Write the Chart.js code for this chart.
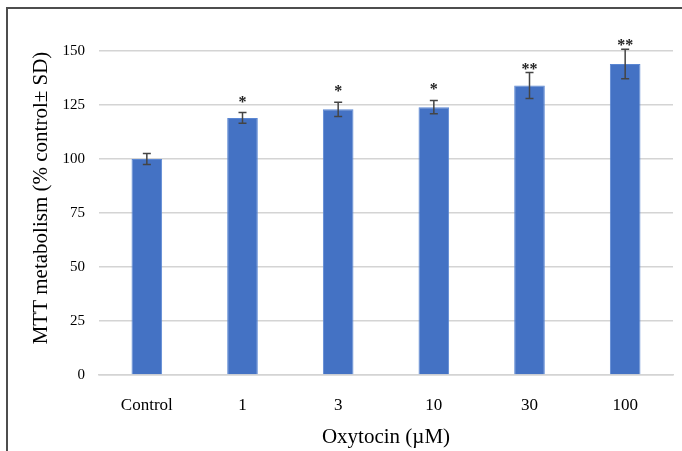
<!DOCTYPE html>
<html>
<head>
<meta charset="utf-8">
<script src="https://cdn.jsdelivr.net/npm/chart.js@4"></script>
<style>
  html, body { margin: 0; padding: 0; background: #fff; }
  #wrap { width: 682px; height: 451px; }
</style>
</head>
<body>
<div id="wrap"><canvas id="mttChart" width="682" height="451"></canvas></div>
<script>
// data
const doses = ['Control', '1', '3', '10', '30', '100'];
const meanValues = [100, 119, 123, 124, 134, 144];
const sdValues = [2.5, 2.5, 3.3, 3.1, 6, 6.8];
const sigMarks = ['', '*', '*', '*', '**', '**'];
const yTicks = [0, 25, 50, 75, 100, 125, 150];

const serif = '"Liberation Serif", "Times New Roman", serif';

// frame (left + top lines), error bars, stars and axis titles
const extras = {
    id: 'extras',
    beforeDraw(chart) {
        const c = chart.ctx;
        c.save();
        c.strokeStyle = '#4d4d4d';
        c.lineWidth = 2;
        c.beginPath();
        c.moveTo(7, 460);
        c.lineTo(7, 8);
        c.lineTo(690, 8);
        c.stroke();
        c.restore();
    },
    afterDatasetsDraw(chart) {
        const c = chart.ctx;
        const meta = chart.getDatasetMeta(0);
        const y = chart.scales.y;
        c.save();
        c.strokeStyle = '#444';
        c.lineWidth = 1.5;
        meta.data.forEach((bar, i) => {
            const top = y.getPixelForValue(meanValues[i] + sdValues[i]);
            const bot = y.getPixelForValue(meanValues[i] - sdValues[i]);
            c.beginPath();
            c.moveTo(bar.x, top); c.lineTo(bar.x, bot);
            c.moveTo(bar.x - 4, top); c.lineTo(bar.x + 4, top);
            c.moveTo(bar.x - 4, bot); c.lineTo(bar.x + 4, bot);
            c.stroke();
            if (sigMarks[i]) {
                // single stars sit a bit higher in the original
                const lift = sigMarks[i].length === 1 ? 9 : 2;
                c.fillStyle = '#222';
                c.font = 'bold 16px ' + serif;
                c.textAlign = 'center';
                c.textBaseline = 'alphabetic';
                c.fillText(sigMarks[i], bar.x, top + 3 - lift);
            }
        });
        c.restore();
    },
    afterDraw(chart) {
        const c = chart.ctx;
        const a = chart.chartArea;
        c.save();
        c.fillStyle = '#000';
        c.font = '21px ' + serif;
        c.textAlign = 'center';
        c.textBaseline = 'middle';
        c.fillText('Oxytocin (\u00b5M)', (a.left + a.right) / 2, 437);
        c.translate(41, 198);
        c.rotate(-Math.PI / 2);
        c.fillText('MTT metabolism (% control\u00b1 SD)', 0, 0);
        c.restore();
    }
};

new Chart(document.getElementById('mttChart').getContext('2d'), {
    type: 'bar',
    data: {
        labels: doses,
        datasets: [{
            data: meanValues,
            backgroundColor: '#4472c4',
            borderColor: '#5b87d3',
            borderWidth: 1,
            categoryPercentage: 1,
            barPercentage: 0.32
        }]
    },
    options: {
        responsive: false,
        animation: false,
        layout: { padding: { top: 51, right: 9, left: 0, bottom: 0 } },
        plugins: { legend: { display: false }, tooltip: { enabled: false } },
        scales: {
            x: {
                grid: { display: false },
                border: { color: '#d4d4d4', width: 1.5 },
                ticks: { color: '#000', font: { family: serif, size: 17 }, padding: 12 },
                afterFit(scale) { scale.height = 76; }
            },
            y: {
                min: 0,
                max: 150,
                afterBuildTicks(scale) { scale.ticks = yTicks.map(v => ({ value: v })); },
                grid: { color: '#d4d4d4', lineWidth: 1.5, drawTicks: false },
                border: { display: false },
                ticks: { color: '#000', font: { family: serif, size: 15 }, padding: 14 },
                afterFit(scale) { scale.width = 99; }
            }
        }
    },
    plugins: [extras]
});
</script>
</body>
</html>
